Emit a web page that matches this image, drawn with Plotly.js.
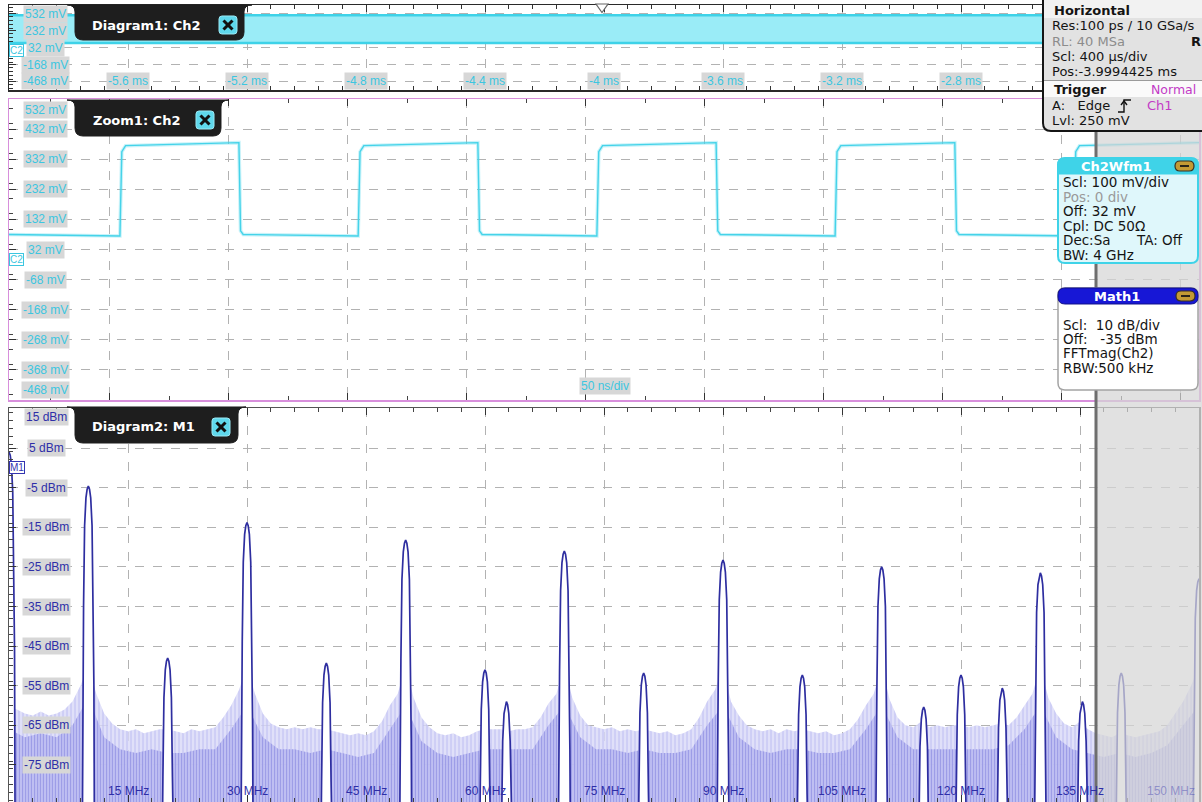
<!DOCTYPE html>
<html>
<head>
<meta charset="utf-8">
<script src="https://cdn.plot.ly/plotly-3.0.1.min.js"></script>
<style>
  html, body { margin: 0; padding: 0; background: #ffffff; }
  #scope { width: 1202px; height: 802px; }
</style>
</head>
<body>
<div id="scope"></div>
<script>
// ---------------- Diagram1: Ch2 (overview, 400 us/div) ----------------
const overviewTimeMs = [-6.0, -2.0];
const overviewEnvelopeMv = [85, 411];            // min / max of the compressed Ch2 trace
const overviewYTicksMv = [532, 232, 32, -168, -468];
const overviewXTicksMs = [-5.6, -5.2, -4.8, -4.4, -4, -3.6, -3.2, -2.8];

// ---------------- Zoom1: Ch2 (50 ns/div) ----------------
const zoomWindowNs = [-42.4, 457.6];
const riseEdgesNs = [4.2, 104.3, 204.6, 304.7, 405.0];
const fallEdgesNs = [54.2, 154.6, 254.7, 355.0];
const highLevelMv = [377, 387];                  // start / end of each high phase
const lowLevelMv = [82, 77];                     // start / end of each low phase
const zoomYTicksMv = [532, 432, 332, 232, 132, 32, -68, -168, -268, -368, -468];

// ---------------- Diagram2: M1 = FFTmag(Ch2) ----------------
const specRangeMHz = [0, 150];
const lineFreqMHz = [0, 10, 20, 30, 40, 50, 60, 62.7, 70, 80, 90, 100, 110, 115.3, 120, 125.2, 130, 135.3, 140.2, 150];
const lineLevelDbm = [4, -4.6, -48, -13.8, -49.3, -18.2, -51, -59, -21, -51.8, -23.3, -52.3, -25, -60.4, -52.3, -55.6, -26.5, -59, -51.8, -28];
// noise floor envelope, one value per 1 MHz bin (0 ... 150 MHz)
const floorEnvelopeDbm = [
  -60, -61, -62, -62.5, -61.5, -62.5, -62, -61, -59, -55, -50, -57, -62, -64.5, -66, -66.5, -66, -67, -66.5, -66,
  -66, -66.5, -67, -66, -66.5, -66, -65.5, -63, -60, -56, -50, -57, -62, -64.5, -65.5, -66, -65.5, -66, -65.5, -66,
  -66, -66.5, -67, -67.5, -67, -67.5, -66.5, -64, -60, -57, -50, -58, -63, -65.5, -67, -67.5, -67, -68, -67.5, -66.5,
  -66, -66, -66, -66.5, -66, -66, -65.5, -63, -59.5, -57, -50, -58, -62.5, -65, -65.5, -66, -65.5, -66.5, -66, -66.5,
  -66, -66.5, -67, -66.5, -67.5, -67, -66, -63, -59, -56, -50, -59, -62.5, -65, -66, -66.5, -66, -67, -66, -66.5,
  -66, -66.5, -67, -66.5, -67.5, -67, -66, -63.5, -60, -57, -50, -58.5, -63, -65, -65.5, -64, -65.5, -65, -65.5, -65,
  -65, -65.5, -65, -65.5, -65, -64.5, -65, -63, -60, -57, -50, -58, -62, -64.5, -65.5, -64, -66, -67, -67.5, -68,
  -67, -67.5, -68, -67.5, -67, -66.5, -65, -62, -59, -55, -50
];
// denser part of the noise floor, one value per 2 MHz bin (0 ... 150 MHz)
const floorCoreDbm = [
  -66, -68, -67, -68, -65, -58, -68, -71, -72, -71,
  -72, -72, -71, -71, -66, -60, -68, -71, -71, -72,
  -71, -72, -73, -72, -66, -60, -69, -72, -73, -72,
  -71, -71, -71, -71, -65, -60, -68, -71, -71, -72,
  -71, -72, -72, -71, -65, -60, -68, -71, -72, -71,
  -71, -72, -72, -71, -66, -60, -68, -71, -71, -71,
  -71, -71, -71, -70, -66, -60, -68, -71, -72, -73,
  -72, -73, -72, -70, -65, -60
];
const floorStepMHz = 1;
const coreStepMHz = 2;
const specYTicksDbm = [15, 5, -5, -15, -25, -35, -45, -55, -65, -75, -85];
const specXTicksMHz = [15, 30, 45, 60, 75, 90, 105, 120, 135, 150];

// ---------------- page geometry helpers ----------------
const W = 1202, H = 802;
const px = x => x / W;            // pixel column -> paper x
const py = y => 1 - y / H;        // pixel row    -> paper y
const pp = (x, y) => `${px(x).toFixed(5)},${py(y).toFixed(5)}`;

function rrect(x0, y0, x1, y1, r) {
  return `M${pp(x0 + r, y0)} L${pp(x1 - r, y0)} Q${pp(x1, y0)} ${pp(x1, y0 + r)} ` +
         `L${pp(x1, y1 - r)} Q${pp(x1, y1)} ${pp(x1 - r, y1)} L${pp(x0 + r, y1)} ` +
         `Q${pp(x0, y1)} ${pp(x0, y1 - r)} L${pp(x0, y0 + r)} Q${pp(x0, y0)} ${pp(x0 + r, y0)} Z`;
}
function topRounded(x0, y0, x1, y1, r) {
  return `M${pp(x0, y1)} L${pp(x0, y0 + r)} Q${pp(x0, y0)} ${pp(x0 + r, y0)} L${pp(x1 - r, y0)} ` +
         `Q${pp(x1, y0)} ${pp(x1, y0 + r)} L${pp(x1, y1)} Z`;
}
function tabPath(a, b, t, u) {
  return `M${pp(a - 5, t)} Q${pp(a + 3, t)} ${pp(a + 3, t + 7)} L${pp(a + 3, u - 8)} ` +
         `Q${pp(a + 3, u)} ${pp(a + 11, u)} L${pp(b - 11, u)} Q${pp(b - 3, u)} ${pp(b - 3, u - 8)} ` +
         `L${pp(b - 3, t + 7)} Q${pp(b - 3, t)} ${pp(b + 5, t)} Z`;
}
function polyPath(points, close) {
  return points.map((p, i) => (i ? 'L' : 'M') + pp(p[0], p[1])).join(' ') + (close ? ' Z' : '');
}

// ---------------- traces ----------------
const traces = [];

// Diagram1: the 10 MHz square wave at 400 us/div collapses into a band
traces.push({
  x: overviewTimeMs, y: [overviewEnvelopeMv[1], overviewEnvelopeMv[1]],
  xaxis: 'x', yaxis: 'y', mode: 'lines', line: { color: '#3ed2e8', width: 2.6 }, hoverinfo: 'skip'
});
traces.push({
  x: overviewTimeMs, y: [overviewEnvelopeMv[0], overviewEnvelopeMv[0]],
  xaxis: 'x', yaxis: 'y', mode: 'lines', fill: 'tonexty', fillcolor: '#9aecf7',
  line: { color: '#3ed2e8', width: 2.6 }, hoverinfo: 'skip'
});

// Zoom1: the square wave itself
function buildWave() {
  const t = [], v = [];
  t.push(zoomWindowNs[0]); v.push(lowLevelMv[0]);
  riseEdgesNs.forEach((tr, i) => {
    t.push(tr); v.push(lowLevelMv[1]);
    t.push(tr + 0.8); v.push(highLevelMv[0] - 20);
    t.push(tr + 2.4); v.push(highLevelMv[0]);
    if (i < fallEdgesNs.length) {
      const tf = fallEdgesNs[i];
      t.push(tf); v.push(highLevelMv[1]);
      t.push(tf + 0.7); v.push(lowLevelMv[0] + 12);
      t.push(tf + 1.8); v.push(lowLevelMv[0]);
    } else {
      t.push(zoomWindowNs[1]); v.push(highLevelMv[1]);
    }
  });
  return { t, v };
}
const wave = buildWave();
traces.push({
  x: wave.t, y: wave.v, xaxis: 'x2', yaxis: 'y2', mode: 'lines',
  line: { color: 'rgba(70,212,234,0.3)', width: 3.6 }, hoverinfo: 'skip'
});
traces.push({
  x: wave.t, y: wave.v, xaxis: 'x2', yaxis: 'y2', mode: 'lines',
  line: { color: '#45d3e9', width: 1.4 }, hoverinfo: 'skip'
});

// Diagram2: noise floor (two layers) and spectral lines
const floorBase = -100;
function floorPolygon(vals, step) {
  const xs = [0], ys = [floorBase];
  vals.forEach((v, i) => { xs.push(i * step); ys.push(v); });
  xs.push(specRangeMHz[1]); ys.push(floorBase);
  return { xs, ys };
}
const env = floorPolygon(floorEnvelopeDbm, floorStepMHz);
traces.push({
  x: env.xs, y: env.ys, xaxis: 'x3', yaxis: 'y3', mode: 'lines', fill: 'toself',
  fillcolor: 'rgba(212,212,247,0.82)',
  fillpattern: { shape: '|', fgcolor: 'rgba(190,190,241,0.85)', bgcolor: 'rgba(216,216,248,0.8)', size: 4, solidity: 0.3 },
  line: { width: 0 }, hoverinfo: 'skip'
});
const core = floorPolygon(floorCoreDbm, coreStepMHz);
traces.push({
  x: core.xs, y: core.ys, xaxis: 'x3', yaxis: 'y3', mode: 'lines', fill: 'toself',
  fillcolor: 'rgba(178,178,239,0.82)',
  fillpattern: { shape: '|', fgcolor: 'rgba(150,150,229,0.8)', bgcolor: 'rgba(182,182,240,0.8)', size: 3, solidity: 0.35 },
  line: { width: 0 }, hoverinfo: 'skip'
});

// each spectral line is drawn as a narrow peak: [half width in MHz, drop below the peak in dB]
const lineProfile = [[0.78, null], [0.7, 50], [0.6, 30], [0.47, 10], [0.3, 3], [0.15, 0.8], [0, 0]];
const lx = [], ly = [];
lineFreqMHz.forEach((f, i) => {
  const top = lineLevelDbm[i];
  const side = lineProfile.map(([hw, drop]) => [hw, drop === null ? floorBase : Math.max(top - drop, floorBase)]);
  side.forEach(([hw, lvl]) => { lx.push(f - hw); ly.push(lvl); });
  side.slice(0, -1).reverse().forEach(([hw, lvl]) => { lx.push(f + hw); ly.push(lvl); });
  lx.push(null); ly.push(null);
});
traces.push({
  x: lx, y: ly, xaxis: 'x3', yaxis: 'y3', mode: 'lines', fill: 'toself', fillcolor: '#ffffff',
  line: { color: '#2e2ea0', width: 1.7 }, connectgaps: false, hoverinfo: 'skip'
});

// ---------------- axes ----------------
const xDomain = [px(9), px(1199)];
function frame(extra) {
  return Object.assign({
    showline: true, mirror: 'ticks', linewidth: 1.5, linecolor: '#2a2a2a',
    showgrid: true, griddash: 'dash', gridcolor: '#b2b2b2', gridwidth: 1,
    zeroline: false, showticklabels: false, ticks: 'inside', ticklen: 7, tickcolor: '#333333',
    fixedrange: true
  }, extra);
}
const layout = {
  width: W, height: H, margin: { l: 0, r: 0, t: 0, b: 0 },
  paper_bgcolor: '#ffffff', plot_bgcolor: '#ffffff', showlegend: false,
  xaxis: frame({ anchor: 'y', domain: xDomain, range: overviewTimeMs, tick0: -6, dtick: 0.4,
                 minor: { ticks: 'inside', ticklen: 4, dtick: 0.08, tickcolor: '#333333', showgrid: false } }),
  yaxis: frame({ anchor: 'x', domain: [py(90), py(5)], range: [-468, 532], tick0: -368, dtick: 200, mirror: true,
                 minor: { ticks: 'inside', ticklen: 4, dtick: 50, tickcolor: '#333333', showgrid: false } }),
  xaxis2: frame({ anchor: 'y2', domain: xDomain, range: zoomWindowNs, tick0: 0, dtick: 50, linecolor: '#d88fdc',
                  minor: { ticks: 'inside', ticklen: 4, dtick: 25, tickcolor: '#444444', showgrid: false } }),
  yaxis2: frame({ anchor: 'x2', domain: [py(400), py(99)], range: [-468, 532], tick0: 32, dtick: 100, mirror: true,
                  linecolor: '#d88fdc',
                  minor: { ticks: 'inside', ticklen: 4, dtick: 50, tickcolor: '#444444', showgrid: false } }),
  xaxis3: frame({ anchor: 'y3', domain: xDomain, range: specRangeMHz, tick0: 0, dtick: 15, linecolor: '#555555',
                  minor: { ticks: 'inside', ticklen: 4, dtick: 3, tickcolor: '#444444', showgrid: false } }),
  yaxis3: frame({ anchor: 'x3', domain: [0, py(408)], range: [-84.34, 15.1], tick0: 5, dtick: 10, mirror: true,
                  linecolor: '#555555',
                  minor: { ticks: 'inside', ticklen: 4, dtick: 2, tickcolor: '#444444', showgrid: false } }),
  shapes: [], annotations: []
};
const shapes = layout.shapes, annotations = layout.annotations;

// ---------------- shapes: overlays, tabs, info panels ----------------
// dimmed region at the right of the lower diagrams
shapes.push({ type: 'rect', xref: 'paper', yref: 'paper', x0: px(1096), x1: px(1205), y0: py(805), y1: py(128),
              fillcolor: 'rgba(214,214,214,0.72)', line: { width: 0 }, layer: 'above' });
shapes.push({ type: 'rect', xref: 'paper', yref: 'paper', x0: px(1094.5), x1: px(1097.5), y0: py(805), y1: py(128),
              fillcolor: '#6e6e6e', line: { width: 0 }, layer: 'above' });

// trigger position marker on the overview
shapes.push({ type: 'path', xref: 'paper', yref: 'paper', path: polyPath([[596, 4], [608, 4], [602, 12.5]], true),
              fillcolor: '#ffffff', line: { color: '#666666', width: 1.2 }, layer: 'above' });

// diagram tabs with close buttons
const tabs = [
  { a: 72, b: 247, t: 5, u: 40, label: 'Diagram1: Ch2', tx: 90, ty: 25, ix: 219, iy: 16 },
  { a: 72, b: 224, t: 100, u: 136, label: 'Zoom1: Ch2', tx: 91, ty: 120, ix: 196, iy: 111 },
  { a: 72, b: 241, t: 407, u: 443, label: 'Diagram2: M1', tx: 90, ty: 426, ix: 212, iy: 418 }
];
tabs.forEach(tb => {
  shapes.push({ type: 'path', xref: 'paper', yref: 'paper', path: tabPath(tb.a, tb.b, tb.t, tb.u),
                fillcolor: '#1e1e1e', line: { color: '#1e1e1e', width: 1 }, layer: 'above' });
  shapes.push({ type: 'path', xref: 'paper', yref: 'paper', path: rrect(tb.ix, tb.iy, tb.ix + 18, tb.iy + 18, 3),
                fillcolor: '#5fd8ec', line: { color: '#9be9f5', width: 1 }, layer: 'above' });
  shapes.push({ type: 'line', xref: 'paper', yref: 'paper', x0: px(tb.ix + 4.5), y0: py(tb.iy + 4.5), x1: px(tb.ix + 13.5), y1: py(tb.iy + 13.5),
                line: { color: '#111111', width: 3 }, layer: 'above' });
  shapes.push({ type: 'line', xref: 'paper', yref: 'paper', x0: px(tb.ix + 13.5), y0: py(tb.iy + 4.5), x1: px(tb.ix + 4.5), y1: py(tb.iy + 13.5),
                line: { color: '#111111', width: 3 }, layer: 'above' });
  annotations.push({ text: tb.label, xref: 'paper', yref: 'paper', x: px(tb.tx), y: py(tb.ty), xanchor: 'left', yanchor: 'middle',
                     showarrow: false, font: { family: 'DejaVu Sans, sans-serif', size: 13, color: '#ffffff', weight: 'bold' } });
});

// Horizontal / Trigger panel
shapes.push({ type: 'path', xref: 'paper', yref: 'paper',
              path: `M${pp(1043, -4)} L${pp(1043, 123)} Q${pp(1043, 131)} ${pp(1051, 131)} L${pp(1210, 131)} L${pp(1210, -4)} Z`,
              fillcolor: '#e2e2e2', line: { color: '#151515', width: 2 }, layer: 'above' });
shapes.push({ type: 'rect', xref: 'paper', yref: 'paper', x0: px(1044), x1: px(1205), y0: py(18), y1: py(0),
              fillcolor: '#f2f2f2', line: { width: 0 }, layer: 'above' });
shapes.push({ type: 'rect', xref: 'paper', yref: 'paper', x0: px(1044), x1: px(1205), y0: py(97), y1: py(81),
              fillcolor: '#fafafa', line: { width: 0 }, layer: 'above' });
shapes.push({ type: 'line', xref: 'paper', yref: 'paper', x0: px(1044), x1: px(1205), y0: py(80.5), y1: py(80.5),
              line: { color: '#9a9a9a', width: 1 }, layer: 'above' });
// rising-edge trigger symbol
shapes.push({ type: 'path', xref: 'paper', yref: 'paper', path: polyPath([[1118, 112], [1124, 112], [1124, 100], [1131, 100]], false),
              line: { color: '#111111', width: 1.4 }, layer: 'above' });
shapes.push({ type: 'path', xref: 'paper', yref: 'paper', path: polyPath([[1121, 105], [1124, 101], [1127, 105]], false),
              line: { color: '#111111', width: 1.4 }, layer: 'above' });

// Ch2Wfm1 panel
shapes.push({ type: 'path', xref: 'paper', yref: 'paper', path: rrect(1058, 158, 1198, 263, 7),
              fillcolor: '#dff7fb', line: { color: '#3fd3e8', width: 2 }, layer: 'above' });
shapes.push({ type: 'path', xref: 'paper', yref: 'paper', path: topRounded(1058, 158, 1198, 174, 7),
              fillcolor: '#3fd3e8', line: { color: '#3fd3e8', width: 1 }, layer: 'above' });
// Math1 panel
shapes.push({ type: 'path', xref: 'paper', yref: 'paper', path: rrect(1058, 288, 1198, 390, 7),
              fillcolor: '#ffffff', line: { color: '#a4a4a4', width: 1.5 }, layer: 'above' });
shapes.push({ type: 'path', xref: 'paper', yref: 'paper', path: rrect(1058, 288, 1198, 304, 7),
              fillcolor: '#1717d6', line: { color: '#10108a', width: 1 }, layer: 'above' });
// minimise buttons
[[1175, 161], [1176, 291]].forEach(([bx, by]) => {
  shapes.push({ type: 'path', xref: 'paper', yref: 'paper', path: rrect(bx, by, bx + 19, by + 10, 5),
                fillcolor: '#c39a34', line: { color: '#3a3020', width: 1.2 }, layer: 'above' });
  shapes.push({ type: 'line', xref: 'paper', yref: 'paper', x0: px(bx + 5), x1: px(bx + 14), y0: py(by + 5), y1: py(by + 5),
                line: { color: '#2a2418', width: 2 }, layer: 'above' });
});

// ---------------- axis labels (boxed, drawn inside the diagrams) ----------------
const cyanText = '#3cc6e0', navyText = '#2e2ea8', tagBg = '#d7d7d7';
const tagFont = c => ({ family: 'Liberation Sans, Arial, sans-serif', size: 12, color: c });
function tag(text, xref, x, yref, y, color, extra) {
  annotations.push(Object.assign({ text, xref, x, yref, y, showarrow: false, xanchor: 'center', yanchor: 'middle',
                                   font: tagFont(color), bgcolor: tagBg, borderpad: 1 }, extra || {}));
}
const edgeShift = (i, n, down, up) => (i === 0 ? down : (i === n - 1 ? up : 0));
overviewYTicksMv.forEach((v, i) => tag(`${v} mV`, 'paper', px(45), 'y', v, cyanText, { yshift: edgeShift(i, overviewYTicksMv.length, -9, 9) }));
overviewXTicksMs.forEach(v => tag(`${v} ms`, 'x', v, 'paper', py(81), cyanText));
zoomYTicksMv.forEach((v, i) => tag(`${v} mV`, 'paper', px(45), 'y2', v, cyanText, { yshift: edgeShift(i, zoomYTicksMv.length, -11, 10) }));
tag('50 ns/div', 'paper', px(605), 'paper', py(386), cyanText);
specYTicksDbm.forEach((v, i) => tag(`${v} dBm`, 'paper', px(46), 'y3', v, navyText, { yshift: edgeShift(i, specYTicksDbm.length, -9, 11.5) }));
specXTicksMHz.forEach((v, i) => {
  const last = i === specXTicksMHz.length - 1;
  tag(`${v} MHz`, 'x3', v, 'paper', py(791), last ? 'rgba(46,46,168,0.4)' : navyText,
      { bgcolor: 'rgba(0,0,0,0)', xanchor: last ? 'right' : 'center', xshift: last ? -2 : 0 });
});

// channel reference markers
function refMarker(text, yref, y, color) {
  annotations.push({ text, xref: 'paper', x: px(9), yref, y, xanchor: 'left', yanchor: 'middle', showarrow: false,
                     font: { family: 'Liberation Sans, Arial, sans-serif', size: 10, color }, bgcolor: '#ffffff',
                     bordercolor: color, borderwidth: 1, borderpad: 0 });
}
refMarker('C2', 'y', 0, '#3cc6e0');
refMarker('C2', 'y2', 0, '#3cc6e0');
refMarker('M1', 'y3', 0, '#3434b0');

// ---------------- info panel texts ----------------
function txt(text, x, y, opts) {
  const o = opts || {};
  annotations.push({ text, xref: 'paper', yref: 'paper', x: px(x), y: py(y), xanchor: o.anchor || 'left', yanchor: 'middle',
                     showarrow: false, font: { family: 'DejaVu Sans, sans-serif', size: o.size || 13, color: o.color || '#141414',
                     weight: o.bold ? 'bold' : 'normal' } });
}
txt('Horizontal', 1052, 10, { bold: true });
txt('Res:100 ps / 10 GSa/s', 1050, 26);
txt('RL: 40 MSa', 1050, 41.5, { color: '#8c8c8c' });
txt('R', 1189, 41.5, { bold: true });
txt('Scl: 400 µs/div', 1050, 57);
txt('Pos:-3.9994425 ms', 1050, 72);
txt('Trigger', 1052, 89, { bold: true });
txt('Normal', 1149, 89, { color: '#c23bc6', size: 12.5 });
txt('A:   Edge', 1050, 106);
txt('Ch1', 1145, 106, { color: '#c23bc6' });
txt('Lvl: 250 mV', 1050, 120.5);

txt('Ch2Wfm1', 1116, 166.5, { bold: true, color: '#ffffff', anchor: 'center' });
txt('Scl: 100 mV/div', 1061, 182.5, { size: 13.5 });
txt('Pos: 0 div', 1061, 197, { size: 13.5, color: '#9a9a9a' });
txt('Off: 32 mV', 1061, 211.5, { size: 13.5 });
txt('Cpl: DC 50Ω', 1061, 226, { size: 13.5 });
txt('Dec:Sa', 1061, 240, { size: 13.5 });
txt('TA: Off', 1134, 240, { size: 13.5 });
txt('BW: 4 GHz', 1061, 254.5, { size: 13.5 });

txt('Math1', 1117, 296.5, { bold: true, color: '#ffffff', anchor: 'center' });
txt('Scl:  10 dB/div', 1061, 325, { size: 13.5 });
txt('Off:   -35 dBm', 1061, 339, { size: 13.5 });
txt('FFTmag(Ch2)', 1061, 353.5, { size: 13.5 });
txt('RBW:500 kHz', 1061, 368, { size: 13.5 });

Plotly.newPlot('scope', traces, layout, { staticPlot: true, displayModeBar: false });
</script>
</body>
</html>
